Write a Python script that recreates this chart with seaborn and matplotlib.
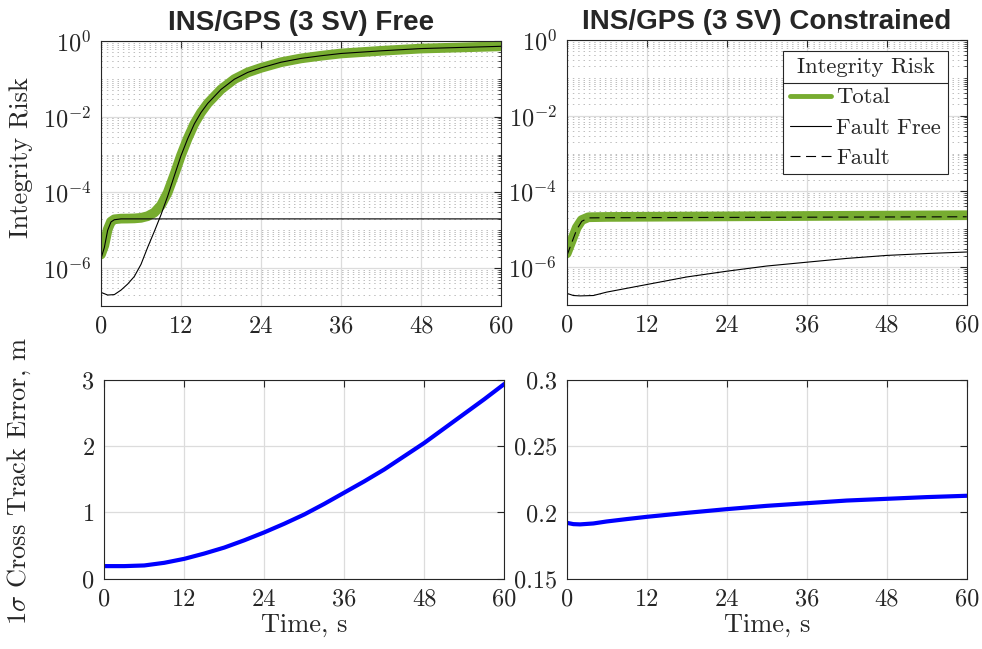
import numpy as np
import pandas as pd
import matplotlib
matplotlib.use("Agg")
import matplotlib.pyplot as plt
import seaborn as sns
from matplotlib.ticker import FixedLocator, LogLocator, NullFormatter, FuncFormatter
from matplotlib.lines import Line2D

# ---------------- data ----------------
# INS/GPS free: integrity risk
free_t_ff = [0, 1, 2, 3, 4, 5, 6, 7, 8, 9, 10, 11, 12, 13, 14, 15, 16, 18, 20,
             22, 24, 27, 30, 33, 36, 42, 48, 54, 60]
free_fault_free = [2.29e-7, 1.95e-7, 2.00e-7, 2.63e-7, 3.80e-7, 6.03e-7, 1.26e-6,
                   3.55e-6, 9.33e-6, 2.57e-5, 7.94e-5, 2.75e-4, 9.33e-4, 2.63e-3,
                   6.46e-3, 1.29e-2, 2.24e-2, 5.25e-2, 9.77e-2, 0.148, 0.195, 0.275,
                   0.347, 0.407, 0.468, 0.550, 0.631, 0.676, 0.724]
free_t_fault = [0, 0.5, 1, 1.5, 2, 3, 60]
free_fault = [1.8e-6, 3.5e-6, 1.0e-5, 1.66e-5, 1.9e-5, 2.0e-5, 2.0e-5]
free_t_total = [0, 0.5, 1, 1.5, 2, 3, 4, 5, 6, 7, 8, 9, 10, 11, 12, 13, 14, 15,
                16, 18, 20, 22, 24, 27, 30, 33, 36, 42, 48, 54, 60]
free_total = [2.3e-6, 4.0e-6, 1.05e-5, 1.7e-5, 1.95e-5, 2.03e-5, 2.04e-5, 2.06e-5,
              2.13e-5, 2.36e-5, 2.93e-5, 4.57e-5, 9.9e-5, 2.95e-4, 9.5e-4, 2.65e-3,
              6.5e-3, 1.29e-2, 2.24e-2, 5.25e-2, 9.8e-2, 0.148, 0.195, 0.275, 0.347,
              0.407, 0.468, 0.550, 0.631, 0.676, 0.724]

# INS/GPS constrained: integrity risk
con_t_ff = [0, 1, 2, 4, 6, 12, 18, 24, 30, 36, 42, 48, 54, 60]
con_fault_free = [2.04e-7, 1.78e-7, 1.74e-7, 1.78e-7, 2.19e-7, 3.47e-7, 5.5e-7,
                  7.8e-7, 1.07e-6, 1.35e-6, 1.70e-6, 2.04e-6, 2.29e-6, 2.51e-6]
con_t_fault = [0, 0.75, 1.5, 2.25, 3.25, 6, 60]
con_fault = [1.95e-6, 4.4e-6, 9.8e-6, 1.62e-5, 2.0e-5, 2.02e-5, 2.14e-5]
con_t_total = [0, 0.75, 1.5, 2.25, 3.25, 6, 60]
con_total = [2.3e-6, 5.0e-6, 1.1e-5, 1.75e-5, 2.08e-5, 2.12e-5, 2.35e-5]

# 1-sigma cross track error
free_t_cte = [0, 3, 6, 9, 12, 15, 18, 21, 24, 27, 30, 33, 36, 39, 42, 45, 48, 51,
              54, 57, 60]
free_cte = [0.19, 0.19, 0.20, 0.24, 0.30, 0.38, 0.47, 0.58, 0.70, 0.83, 0.97, 1.13,
            1.30, 1.47, 1.65, 1.85, 2.05, 2.27, 2.49, 2.71, 2.94]
con_t_cte = [0, 1, 2, 4, 6, 9, 12, 18, 24, 30, 36, 42, 48, 54, 60]
con_cte = [0.1922, 0.1912, 0.1910, 0.1917, 0.1932, 0.1950, 0.1967, 0.1997, 0.2025,
           0.2050, 0.2070, 0.2090, 0.2103, 0.2116, 0.2126]

time_ticks = [0, 12, 24, 36, 48, 60]

# ---------------- style ----------------
sns.set_theme(style="white")
plt.rcParams.update({
    "font.family": ["cmr10"],
    "mathtext.fontset": "cm",
    "axes.formatter.use_mathtext": True,
    "axes.edgecolor": "#262626",
    "axes.linewidth": 0.8,
    "xtick.color": "#262626",
    "ytick.color": "#262626",
    "text.color": "#262626",
})

GREEN = "#77AC30"
BLUE = "#0000FF"
TICK_FS = 17.5
LABEL_FS = 19
TITLE_FS = 20
LEG_FS = 16.3
W, H = 982, 649

fig = plt.figure(figsize=(W / 100, H / 100), dpi=100)


def add_ax(x0, y0, x1, y1):
    return fig.add_axes([x0 / W, 1 - y1 / H, (x1 - x0) / W, (y1 - y0) / H])


ax_tl = add_ax(101, 41, 501, 306)
ax_tr = add_ax(566.7, 40, 966.7, 305)
ax_bl = add_ax(104.3, 380, 504.3, 578.7)
ax_br = add_ax(566.7, 380, 966.7, 578.7)


def line(ax, t, v, **kw):
    df = pd.DataFrame({"t": t, "v": v})
    sns.lineplot(data=df, x="t", y="v", ax=ax, estimator=None, sort=True, **kw)


def common(ax):
    ax.set_xlim(0, 60)
    ax.xaxis.set_major_locator(FixedLocator(time_ticks))
    ax.xaxis.set_major_formatter(FuncFormatter(lambda v, p: f"{v:g}"))
    ax.tick_params(which="both", direction="in", top=True, right=True,
                   labelsize=TICK_FS)
    ax.tick_params(which="major", length=5, width=0.8, pad=7)
    ax.tick_params(which="minor", length=2.5, width=0.6)
    ax.grid(True, which="major", color="#dcdcdc", lw=0.9)
    ax.set_axisbelow(True)
    for s in ax.spines.values():
        s.set_visible(True)
    ax.set_xlabel("")
    ax.set_ylabel("")


def log_axes(ax):
    ax.set_yscale("log")
    ax.set_ylim(1e-7, 1)
    ax.yaxis.set_major_locator(FixedLocator([1e-6, 1e-4, 1e-2, 1]))
    ax.yaxis.set_minor_locator(LogLocator(base=10, subs=np.arange(1, 10), numticks=100))
    ax.yaxis.set_minor_formatter(NullFormatter())
    ax.grid(True, which="minor", axis="y", color="#bdbdbd", lw=0.7,
            linestyle=(0, (1.5, 4)))


# top-left: free
line(ax_tl, free_t_total, free_total, color=GREEN, lw=7, solid_capstyle="round")
line(ax_tl, free_t_ff, free_fault_free, color="black", lw=0.8)
line(ax_tl, free_t_fault, free_fault, color="black", lw=0.8)
common(ax_tl)
log_axes(ax_tl)
ax_tl.set_title("INS/GPS (3 SV) Free", fontfamily="Liberation Sans",
                fontweight="bold", fontsize=TITLE_FS, pad=8)
ax_tl.set_ylabel("Integrity Risk", fontsize=LABEL_FS)
ax_tl.yaxis.set_label_coords(-0.17, 0.56)

# top-right: constrained
line(ax_tr, con_t_total, con_total, color=GREEN, lw=7, solid_capstyle="round")
line(ax_tr, con_t_ff, con_fault_free, color="black", lw=0.8)
line(ax_tr, con_t_fault, con_fault, color="black", lw=0.8)
ax_tr.lines[-1].set_dashes((9, 5))
common(ax_tr)
log_axes(ax_tr)
ax_tr.set_title("INS/GPS (3 SV) Constrained", fontfamily="Liberation Sans",
                fontweight="bold", fontsize=TITLE_FS, pad=8)

handles = [Line2D([], [], color=GREEN, lw=3.5),
           Line2D([], [], color="black", lw=0.8),
           Line2D([], [], color="black", lw=0.8, dashes=(9, 5))]
leg = ax_tr.legend(handles, ["Total", "Fault Free", "Fault"], title="Integrity Risk",
                   loc="upper right", bbox_to_anchor=(0.953, 0.958),
                   fontsize=LEG_FS, title_fontsize=LEG_FS, frameon=True,
                   fancybox=False, framealpha=1, edgecolor="#262626",
                   handlelength=1.8, handletextpad=0.25, labelspacing=0.45,
                   borderpad=0.3, borderaxespad=0)
leg.get_frame().set_linewidth(0.8)

# bottom-left
line(ax_bl, free_t_cte, free_cte, color=BLUE, lw=3)
common(ax_bl)
ax_bl.set_ylim(0, 3)
ax_bl.yaxis.set_major_locator(FixedLocator([0, 1, 2, 3]))
ax_bl.set_xlabel("Time, s", fontsize=LABEL_FS, labelpad=2)
ax_bl.set_ylabel(r"1$\sigma$ Cross Track Error, m", fontsize=LABEL_FS)
ax_bl.yaxis.set_label_coords(-0.178, 0.49)

# bottom-right
line(ax_br, con_t_cte, con_cte, color=BLUE, lw=3)
common(ax_br)
ax_br.set_ylim(0.15, 0.3)
ax_br.yaxis.set_major_locator(FixedLocator([0.15, 0.2, 0.25, 0.3]))
ax_br.yaxis.set_major_formatter(FuncFormatter(lambda v, p: f"{v:g}"))
ax_br.set_xlabel("Time, s", fontsize=LABEL_FS, labelpad=2)

# separator between legend title and entries
fig.canvas.draw()
r = fig.canvas.get_renderer()
lb = leg.get_frame().get_window_extent(r)
tb = leg.get_title().get_window_extent(r)
eb = leg.get_texts()[0].get_window_extent(r)
ysep = (tb.y0 + eb.y1) / 2
fig.add_artist(Line2D([lb.x0 / W, lb.x1 / W], [ysep / H, ysep / H],
                      transform=fig.transFigure, color="#262626", lw=0.8))

fig.savefig("out.png", dpi=100)
